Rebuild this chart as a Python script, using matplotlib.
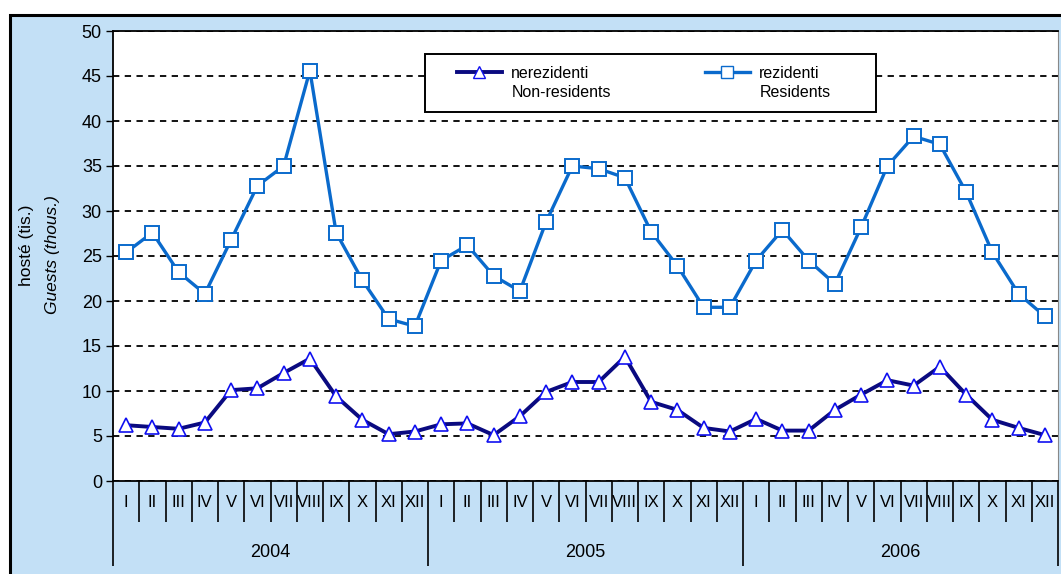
import matplotlib
matplotlib.use("Agg")
import matplotlib.pyplot as plt
from matplotlib.lines import Line2D
from matplotlib.patches import Rectangle
import matplotlib.transforms as mtransforms

plt.rcParams['font.family'] = ['Liberation Sans', 'DejaVu Sans']

years = ['2004', '2005', '2006']
months = ['I', 'II', 'III', 'IV', 'V', 'VI', 'VII', 'VIII', 'IX', 'X', 'XI', 'XII']

nonresidents = [6.2, 6.0, 5.8, 6.5, 10.1, 10.3, 12.0, 13.6, 9.4, 6.8, 5.2, 5.5,
                6.3, 6.4, 5.1, 7.2, 9.9, 11.0, 11.0, 13.8, 8.8, 7.9, 5.9, 5.5,
                6.9, 5.6, 5.6, 7.9, 9.6, 11.2, 10.6, 12.7, 9.6, 6.8, 5.9, 5.1]
residents = [25.4, 27.6, 23.2, 20.8, 26.8, 32.8, 35.0, 45.6, 27.6, 22.3, 18.0, 17.2,
             24.5, 26.2, 22.8, 21.1, 28.8, 35.0, 34.7, 33.7, 27.7, 23.9, 19.3, 19.3,
             24.5, 27.9, 24.5, 21.9, 28.2, 35.0, 38.3, 37.4, 32.1, 25.4, 20.8, 18.3]

labels_nonres = ['nerezidenti', 'Non-residents']
labels_res = ['rezidenti', 'Residents']
ylabel_cz = 'hosté (tis.)'
ylabel_en = 'Guests (thous.)'

W, H = 1061, 574
fig = plt.figure(figsize=(W / 100, H / 100), dpi=100, facecolor='white')

bg = '#C3E0F6'
fig.patches.append(Rectangle((10 / W, -0.01), 1.0, 1 - 15 / H + 0.01,
                             transform=fig.transFigure, facecolor=bg,
                             edgecolor='black', linewidth=2.2, zorder=-10))

ax = fig.add_axes([113 / W, 1 - 481 / H, 945 / W, 450 / H])
ax.set_facecolor('white')

n = len(nonresidents)
xs = [i + 0.5 for i in range(n)]

ax.plot(xs, residents, color='#0A6ACC', linewidth=2.4, marker='s', markersize=10.5,
        markerfacecolor='white', markeredgecolor='#0A6ACC', markeredgewidth=1.4, zorder=4)
ax.plot(xs, nonresidents, color='#0A0A80', linewidth=2.8, marker='^', markersize=10.5,
        markerfacecolor='white', markeredgecolor='#1010F0', markeredgewidth=1.2, zorder=5)

ax.set_xlim(0, n)
ax.set_ylim(0, 50)
ax.set_yticks(range(0, 51, 5))
ax.tick_params(axis='y', direction='out', length=5, width=1, labelsize=13, pad=3, colors='black')
ax.yaxis.grid(True, linestyle=(0, (3.5, 3)), color='black', linewidth=1.3)
ax.set_axisbelow(True)

# x category axis
ax.set_xticks([0, 12, 24, 36])
ax.set_xticks([i for i in range(1, n) if i % 12 != 0], minor=True)
ax.tick_params(axis='x', which='major', direction='out', length=61, width=1.2, labelbottom=False)
ax.tick_params(axis='x', which='minor', direction='out', length=29.5, width=1.2, labelbottom=False)

trans = mtransforms.blended_transform_factory(ax.transData, ax.transAxes)
for i in range(n):
    ax.text(xs[i], -0.047, months[i % 12], transform=trans, ha='center', va='center',
            fontsize=12)
for k, yr in enumerate(years):
    ax.text(12 * k + 6, -0.158, yr, transform=trans, ha='center', va='center', fontsize=13)

for side in ['left', 'bottom', 'top']:
    ax.spines[side].set_color('black')
    ax.spines[side].set_linewidth(1.3)
ax.spines['right'].set_color('#888888')

# legend
ax.add_patch(Rectangle((0.330, 0.82), 0.477, 0.128, transform=ax.transAxes,
                       facecolor='white', edgecolor='black', linewidth=1.4, zorder=6))
h_non = Line2D([], [], color='#0A0A80', linewidth=2.8, marker='^', markersize=9,
               markerfacecolor='white', markeredgecolor='#1010F0')
h_res = Line2D([], [], color='#0A6ACC', linewidth=2.4, marker='s', markersize=8.5,
               markerfacecolor='white', markeredgecolor='#0A6ACC')
h_blank = Line2D([], [], linestyle='none')
leg = ax.legend([h_non, h_blank, h_res, h_blank],
                [labels_nonres[0], labels_nonres[1], labels_res[0], labels_res[1]],
                ncol=2, loc='upper left', bbox_to_anchor=(0.364, 0.923),
                frameon=False, fontsize=11.5, handlelength=2.8, columnspacing=5.9,
                labelspacing=0.3, borderpad=0, borderaxespad=0, handletextpad=0.6)
leg.set_zorder(7)

fig.text(27 / W, 1 - 245 / H, ylabel_cz, rotation=90, ha='center', va='center', fontsize=12.5)
fig.text(52 / W, 1 - 255 / H, ylabel_en, rotation=90, ha='center', va='center', fontsize=12.5,
         style='italic')

fig.savefig('out.png', dpi=100, facecolor='white')
